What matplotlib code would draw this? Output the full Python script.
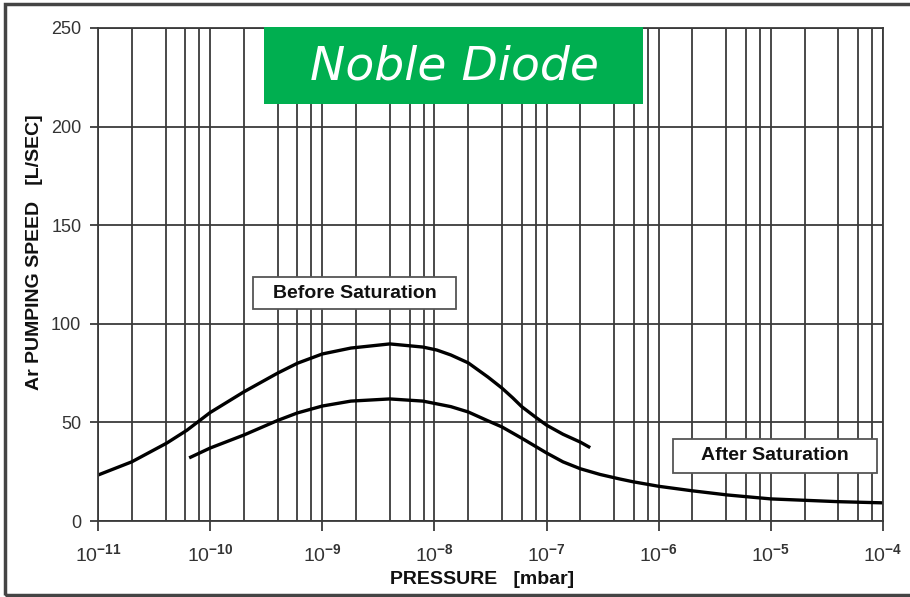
import matplotlib
matplotlib.use("Agg")
import matplotlib.pyplot as plt
from matplotlib.patches import Rectangle
from matplotlib.ticker import FixedLocator, FixedFormatter

plt.rcParams['font.family'] = ['Liberation Sans', 'DejaVu Sans']
plt.rcParams['mathtext.fontset'] = 'custom'
plt.rcParams['mathtext.rm'] = 'Liberation Sans'
plt.rcParams['mathtext.bf'] = 'Liberation Sans:bold'

# Before saturation curve
before_p = [1.0e-11, 2.0e-11, 4.1e-11, 6.2e-11, 1.0e-10, 2.0e-10, 4.0e-10, 6.0e-10,
            1.0e-9, 1.8e-9, 4.0e-9, 7.9e-9, 1.05e-8, 1.4e-8, 2.0e-8, 3.0e-8,
            4.0e-8, 5.0e-8, 6.0e-8, 8.0e-8, 1.0e-7, 1.4e-7, 2.0e-7, 2.45e-7]
before_s = [23.3, 30, 39.5, 46, 55, 65.5, 75, 80,
            84.7, 87.7, 89.8, 88.2, 86.7, 84.2, 80.2, 73,
            67.4, 62.4, 58, 52.6, 48.6, 44, 40, 37.2]

# After saturation curve
after_p = [6.5e-11, 1.0e-10, 2.0e-10, 4.0e-10, 6.0e-10, 1.0e-9, 1.8e-9, 4.0e-9,
           7.9e-9, 1.4e-8, 2.0e-8, 3.0e-8, 4.0e-8, 6.0e-8, 1.0e-7, 1.4e-7,
           2.0e-7, 3.0e-7, 4.5e-7, 5.9e-7, 1.0e-6, 2.0e-6, 4.1e-6, 1.0e-5,
           4.0e-5, 1.0e-4]
after_s = [32, 37, 43.6, 51, 54.8, 58.3, 60.8, 61.9,
           60.8, 58, 55.3, 50.8, 47.7, 42, 34.5, 30,
           26.5, 23.6, 21.3, 19.9, 17.6, 15.3, 13.2, 11.2,
           9.8, 9.2]

decades = [-11, -10, -9, -8, -7, -6, -5, -4]
y_ticks = [0, 50, 100, 150, 200, 250]

W, H = 910, 597
fig = plt.figure(figsize=(W / 100, H / 100), dpi=100)
ax = fig.add_axes([98 / W, 1 - 521 / H, (883 - 98) / W, (521 - 28) / H])

ax.set_xscale('log')
ax.set_xlim(1e-11, 1e-4)
ax.set_ylim(0, 250)

major = [10.0 ** d for d in decades]
minor = [m * 10.0 ** d for d in decades[:-1] for m in (2, 4, 6, 8)]
ax.xaxis.set_major_locator(FixedLocator(major))
ax.xaxis.set_major_formatter(FixedFormatter(
    [r'$\mathrm{10}^{\mathbf{%d}}$' % d for d in decades]))
ax.xaxis.set_minor_locator(FixedLocator(minor))
ax.xaxis.set_minor_formatter(FixedFormatter([''] * len(minor)))
ax.set_yticks(y_ticks)

gcol = '#3a3a3a'
ax.grid(True, which='both', axis='x', color=gcol, lw=1.3)
ax.grid(True, which='major', axis='y', color=gcol, lw=1.3)
ax.set_axisbelow(True)
for s in ax.spines.values():
    s.set_color(gcol)
    s.set_linewidth(1.3)

ax.tick_params(axis='x', which='major', direction='out', length=7, width=1.3,
               color=gcol, labelsize=14, pad=9, labelcolor='#333333')
ax.tick_params(axis='x', which='minor', length=0)
ax.tick_params(axis='y', direction='out', length=6, width=1.3, color=gcol,
               labelsize=13, pad=6, labelcolor='#333333')

ax.plot(before_p, before_s, color='black', lw=2.4, solid_capstyle='butt',
        solid_joinstyle='round')
ax.plot(after_p, after_s, color='black', lw=2.4, solid_capstyle='butt',
        solid_joinstyle='round')

# labels
fig.text(35 / W, 1 - 252 / H, 'Ar PUMPING SPEED   [L/SEC]', rotation=90,
         ha='center', va='center', fontsize=14, fontweight='bold', color='#111111')
fig.text(482 / W, 1 - 580 / H, 'PRESSURE   [mbar]', ha='center', va='center',
         fontsize=14, fontweight='bold', color='#111111')

# curve annotations
for (x0, y0, x1, y1, txt) in [(253, 277, 456, 309, 'Before Saturation'),
                              (673, 439, 877, 473, 'After Saturation')]:
    fig.patches.append(Rectangle((x0 / W, 1 - y1 / H), (x1 - x0) / W, (y1 - y0) / H,
                                 transform=fig.transFigure, facecolor='white',
                                 edgecolor='#555555', lw=1.3, zorder=5))
    fig.text((x0 + x1) / 2 / W, 1 - (y0 + y1) / 2 / H, txt, ha='center', va='center',
             fontsize=14, fontweight='bold', color='#111111', zorder=6)

# title banner
fig.patches.append(Rectangle((264 / W, 1 - 104 / H), (643 - 264) / W, 77 / H,
                             transform=fig.transFigure, facecolor='#00AF50',
                             edgecolor='none', zorder=5))
fig.text(455 / W, 1 - 67 / H, 'Noble Diode', ha='center', va='center',
         fontsize=34, style='italic', color='white', family='DejaVu Sans', zorder=6)

# outer frame
fig.patches.append(Rectangle((5 / W, 1 - 595 / H), (W + 10) / W, (595 - 4) / H,
                             transform=fig.transFigure, facecolor='none',
                             edgecolor='#444444', lw=2.5, zorder=1))

fig.savefig('out.png', dpi=100)
